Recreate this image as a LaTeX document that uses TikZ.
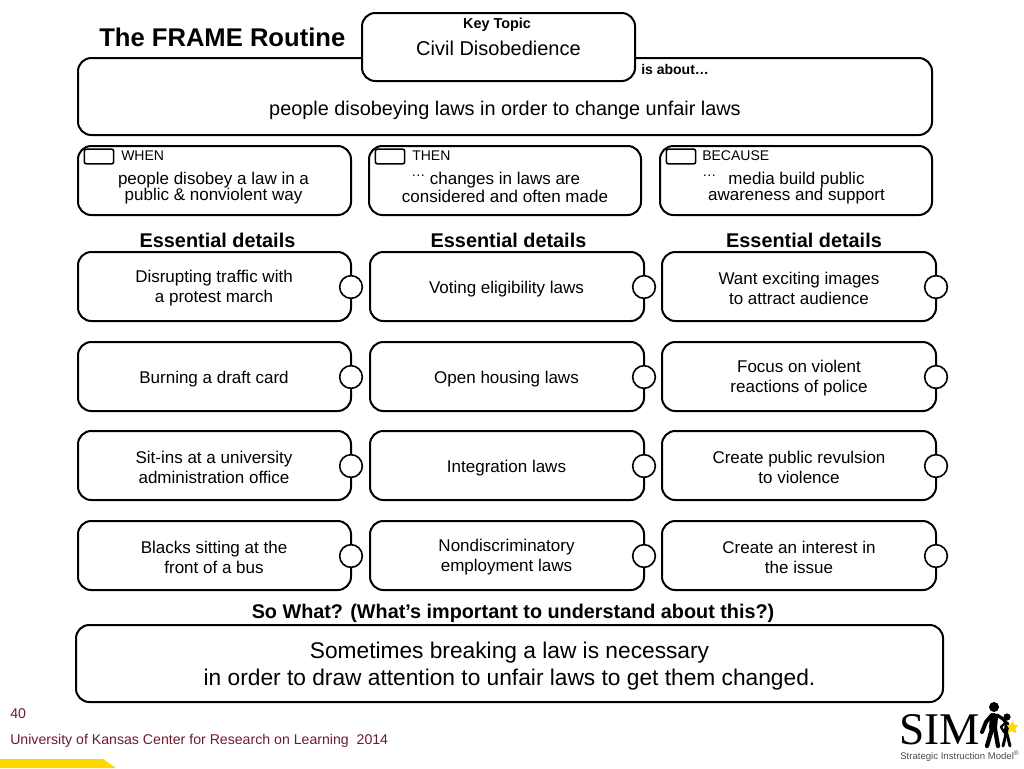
\documentclass[tikz,border=0pt]{standalone}
\usepackage{fontspec}
\setmainfont{Liberation Sans}
\newfontfamily\simserif{Liberation Serif}
\newcommand{\fsz}[1]{\fontsize{#1}{#1}\selectfont}
\definecolor{footred}{HTML}{6E1A2A}
\definecolor{simyellow}{HTML}{FFD800}
\tikzset{
  px/.style={x=0.75pt,y=-0.75pt},
  rbox/.style={draw=black,line width=1.5pt,fill=white,rounded corners=10pt,inner sep=0pt,align=center},
  tick/.style={draw=black,line width=1.2pt,fill=white,rounded corners=1.5pt,minimum width=22pt,minimum height=11pt,inner sep=0pt},
  knob/.style={circle,draw=black,line width=1.2pt,fill=white,minimum size=17pt,inner sep=0pt},
  lab/.style={inner sep=0pt,align=center,text=black},
  limb/.style={line cap=round,line join=round},
}
\newcommand{\boxat}[6]{% name x1 y1 x2 y2 options
  \node[rbox,#6,minimum width={(#4-#2)*0.75pt},minimum height={(#5-#3)*0.75pt}] (#1) at ({(#2+#4)/2},{(#3+#5)/2}) {};}
\newcommand{\detail}[6]{% name x1 y knobx textx text (two lines)
  \boxat{#1}{#2}{#3}{#4}{#3+69}{}
  \node[knob] (#1k) at (#4,#3+35) {};
  \node[lab,font=\fsz{12.75}] (#1t) at (#5,#3+36.2) {#6};}
\newcommand{\detailone}[6]{% one line of text
  \boxat{#1}{#2}{#3}{#4}{#3+69}{}
  \node[knob] (#1k) at (#4,#3+35) {};
  \node[lab,font=\fsz{12.75}] (#1t) at (#5,#3+37.2) {#6};}
\begin{document}
\begin{tikzpicture}[px]
\useasboundingbox (0,0) rectangle (1024,768);
\fill[simyellow] (0,759) -- (103,759) -- (116,768) -- (0,768) -- cycle;
\node[lab,anchor=west,font=\bfseries\fsz{19.2}] (title) at (99,37) {The FRAME Routine};
\boxat{about}{78}{58}{932}{135}{}
\boxat{key}{362}{13}{635}{81}{}
\node[lab,font=\bfseries\fsz{10.8}] (keyl) at (497,25) {Key Topic};
\node[lab,font=\fsz{15}] (keyt) at (498.5,48) {Civil Disobedience};
\node[lab,anchor=west,font=\bfseries\fsz{10.5}] (isab) at (641,69.5) {is about…};
\node[lab,font=\fsz{14.9}] (abt) at (505,110) {people disobeying laws in order to change unfair laws};
\boxat{when}{78}{146}{351}{215}{}
\boxat{then}{369}{146}{641}{215}{}
\boxat{because}{660}{146}{932}{215}{}
\node[tick] (w0) at (99,156.5) {};
\node[tick] (t0) at (390,156.5) {};
\node[tick] (b0) at (681,156.5) {};
\node[lab,anchor=west,font=\fsz{10.5}] (wl) at (121,155.5) {WHEN};
\node[lab,anchor=west,font=\fsz{10.5}] (tl) at (412,155.5) {THEN};
\node[lab,anchor=west,font=\fsz{10.5}] (bl) at (702,155.5) {BECAUSE};
\node[lab,font=\fsz{12.75}] (w1) at (213.5,180.5) {people disobey a law in a};
\node[lab,font=\fsz{12.75}] (w2) at (213.5,196) {public \& nonviolent way};
\node[lab,anchor=west,font=\fsz{10.5}] (t3) at (411,175.5) {…};
\node[lab,font=\fsz{12.75}] (t1) at (505,180.5) {changes in laws are};
\node[lab,font=\fsz{12.75}] (t2) at (505,196) {considered and often made};
\node[lab,anchor=west,font=\fsz{10.5}] (b3) at (702,175.5) {…};
\node[lab,font=\fsz{12.75}] (b1) at (796.5,180.5) {media build public};
\node[lab,font=\fsz{12.75}] (b2) at (796.5,196) {awareness and support};
\node[lab,font=\bfseries\fsz{14.9}] (e1) at (217.5,240.5) {Essential details};
\node[lab,font=\bfseries\fsz{14.9}] (e2) at (508.5,240.5) {Essential details};
\node[lab,font=\bfseries\fsz{14.9}] (e3) at (804,240.5) {Essential details};
\detail{a1}{78}{252}{351}{214}{Disrupting traffic with\\[2.6pt]a protest march}
\detailone{a2}{78}{342}{351}{214}{Burning a draft card}
\detail{a3}{78}{431}{351}{214}{Sit-ins at a university\\[2.6pt]administration office}
\detail{a4}{78}{521}{351}{214}{Blacks sitting at the\\[2.6pt]front of a bus}
\detailone{c1}{370}{252}{644}{506.5}{Voting eligibility laws}
\detailone{c2}{370}{342}{644}{506.5}{Open housing laws}
\detailone{c3}{370}{431}{644}{506.5}{Integration laws}
\detail{c4}{370}{521}{644}{506.5}{Nondiscriminatory\\[2.6pt]employment laws}
\detail{d1}{662}{252}{936}{799}{Want exciting images\\[2.6pt]to attract audience}
\detail{d2}{662}{342}{936}{799}{Focus on violent\\[2.6pt]reactions of police}
\detail{d3}{662}{431}{936}{799}{Create public revulsion\\[2.6pt]to violence}
\detail{d4}{662}{521}{936}{799}{Create an interest in\\[2.6pt]the issue}
\node[lab,font=\bfseries\fsz{14.85}] (so) at (513,613) {So What? (What’s important to understand about this?)};
\boxat{what}{76}{625}{943}{702}{}
\node[lab,font=\fsz{17.05}] (wh1) at (509.5,652.5) {Sometimes breaking a law is necessary};
\node[lab,font=\fsz{17.05}] (wh2) at (509.5,679.5) {in order to draw attention to unfair laws to get them changed.};
\node[lab,anchor=west,text=footred,font=\fsz{10.6}] (pg) at (10,714) {40};
\node[lab,anchor=west,text=footred,font=\fsz{10.6}] (uni) at (10,741) {University of Kansas Center for Research on Learning\ \ 2014};
\node[lab,anchor=west,font=\simserif\fsz{34}] (sim) at (899,730) {SIM};
\node[lab,anchor=west,text=black!70,font=\fsz{7.2}] (model) at (900,756) {Strategic Instruction Model\textsuperscript{®}};
% SIM figures
\fill (994,707) circle (5);
\fill (1007,717) circle (3.6);
\draw[limb,line width=3pt] (992,715) -- (986,722) -- (982,732);
\draw[limb,line width=2.4pt] (997,715) -- (1003,719) -- (1008,725);
\draw[limb,line width=6pt] (994,717) -- (993,728);
\draw[limb,line width=3.2pt] (992,729) -- (987,746);
\draw[limb,line width=3.2pt] (995,729) -- (998,746);
\draw[limb,line width=3.4pt] (1007,724) -- (1006,733);
\draw[limb,line width=1.8pt] (1005,723) -- (1001,727) -- (1004,732);
\draw[limb,line width=2.2pt] (1006,734) -- (1003,746);
\draw[limb,line width=2.2pt] (1007,734) -- (1010,746);
\fill[simyellow] (1013,720) -- (1014,724.5) -- (1018,725) -- (1015.5,728.5) -- (1016,733) -- (1012,731) -- (1008,733) -- (1009,728.5) -- (1007,725) -- (1011,724.5) -- cycle;
\end{tikzpicture}
\end{document}
